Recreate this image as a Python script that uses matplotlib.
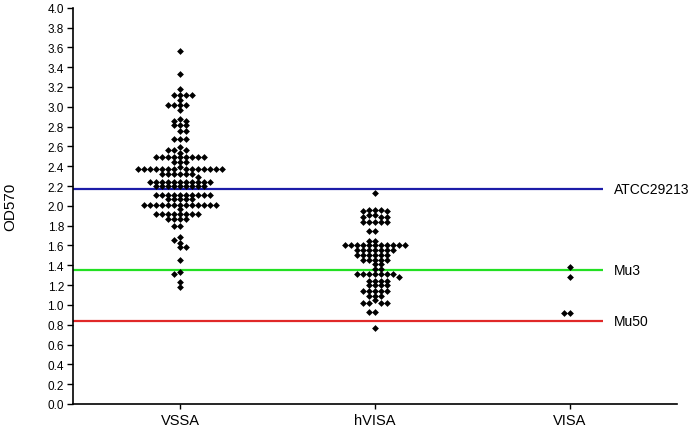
import numpy as np
import matplotlib
matplotlib.use("Agg")
import matplotlib.pyplot as plt

plt.rcParams['font.family'] = ['Liberation Sans', 'DejaVu Sans']

# OD570 values
groups = ['VSSA', 'hVISA', 'VISA']

vssa = [3.56, 3.33, 3.18,
        3.12, 3.12, 3.12, 3.12, 3.07, 3.02, 3.02, 3.02, 3.02, 2.97,
        2.88, 2.86, 2.86, 2.82, 2.82, 2.82, 2.76, 2.76, 2.67, 2.67, 2.67,
        2.59, 2.56, 2.56, 2.56, 2.53,
        2.49, 2.49, 2.49, 2.49, 2.49, 2.49, 2.49, 2.49, 2.49,
        2.44, 2.44, 2.44, 2.39,
        2.37, 2.37, 2.37, 2.37, 2.37, 2.37, 2.37, 2.37, 2.37, 2.37, 2.37, 2.37, 2.37, 2.37,
        2.32, 2.32, 2.32, 2.32, 2.32, 2.32, 2.29,
        2.24, 2.24, 2.24, 2.24, 2.24, 2.24, 2.24, 2.24, 2.24, 2.24, 2.24,
        2.20, 2.20, 2.20, 2.20, 2.20, 2.20, 2.20, 2.20, 2.20,
        2.11, 2.11, 2.11, 2.11, 2.11, 2.11, 2.11, 2.11, 2.11, 2.11,
        2.07, 2.07, 2.07, 2.07, 2.07,
        2.01, 2.01, 2.01, 2.01, 2.01, 2.01, 2.01, 2.01, 2.01, 2.01, 2.01, 2.01, 2.01,
        1.97,
        1.92, 1.92, 1.92, 1.92, 1.92, 1.92, 1.92, 1.92,
        1.87, 1.87, 1.87, 1.87, 1.80, 1.80,
        1.69, 1.66, 1.63, 1.58, 1.58, 1.45, 1.335, 1.31, 1.23, 1.18]

hvisa = [2.13,
         1.96, 1.96, 1.96, 1.95, 1.95, 1.91, 1.91,
         1.89, 1.89, 1.89, 1.84, 1.84, 1.84, 1.84, 1.84,
         1.75, 1.75, 1.65, 1.65,
         1.60, 1.60, 1.60, 1.60, 1.60, 1.60, 1.60, 1.60, 1.60, 1.60, 1.60,
         1.55, 1.55, 1.55, 1.55, 1.55, 1.55, 1.55,
         1.50, 1.50, 1.50, 1.50, 1.50, 1.50,
         1.45, 1.45, 1.45, 1.45, 1.45, 1.41, 1.41, 1.36, 1.36,
         1.31, 1.31, 1.31, 1.31, 1.31, 1.31, 1.31, 1.28,
         1.24, 1.24, 1.24, 1.24, 1.20, 1.20, 1.20, 1.20,
         1.14, 1.14, 1.14, 1.14, 1.14, 1.09, 1.09, 1.09, 1.05,
         1.02, 1.02, 1.02, 1.02, 0.93, 0.93, 0.77]

visa = [1.38, 1.28, 0.92, 0.92]

# reference strains
ref_names = ['ATCC29213', 'Mu3', 'Mu50']
ref_values = [2.17, 1.355, 0.84]
ref_colors = ['#1c1ca8', '#22e022', '#e02828']

yticks = np.arange(0, 4.01, 0.2)


def column_swarm(values, col_w, min_dy):
    # Prism-like layout: points snap to columns, a column is free
    # if no point in it sits closer than min_dy vertically (pixels)
    order = np.argsort(values)[::-1]
    used = {}
    xs = np.zeros(len(values))
    flip = 1
    for i in order:
        y = values[i]
        k = 0
        while True:
            cols = [0] if k == 0 else [flip * k, -flip * k]
            done = False
            for c in cols:
                if all(abs(y - py) >= min_dy for py in used.get(c, [])):
                    used.setdefault(c, []).append(y)
                    xs[i] = c * col_w
                    done = True
                    break
            if done:
                break
            k += 1
        flip = -flip
    return xs


fig = plt.figure(figsize=(6.95, 4.31), dpi=100)
ax = fig.add_axes([73 / 695, 26 / 431, 604 / 695, 396.3 / 431])
ax.set_xlim(-0.55, 2.55)
ax.set_ylim(0, 4.0)

# pixel scale for the swarm layout
bbox = ax.get_window_extent()
px_x = bbox.width / 3.1
px_y = bbox.height / 4.0

for k, vals in enumerate([vssa, hvisa, visa]):
    vals = np.array(vals)
    offs = column_swarm(vals * px_y, 6.0, 3.5)
    ax.scatter(k + offs / px_x, vals, marker='D', s=12, color='black',
               linewidths=0, zorder=3)

for name, v, c in zip(ref_names, ref_values, ref_colors):
    ax.hlines(v, -0.55, 2.17, color=c, linewidth=1.6, zorder=2)
    ax.text(2.225, v, name, va='center', ha='left', fontsize=10)

ax.spines['top'].set_visible(False)
ax.spines['right'].set_visible(False)
ax.spines['left'].set_linewidth(1.2)
ax.spines['bottom'].set_linewidth(1.2)

ax.set_yticks(yticks)
ax.set_yticklabels([f'{t:.1f}' for t in yticks], fontsize=8.5)
ax.set_xticks([0, 1, 2])
ax.set_xticklabels(groups, fontsize=10.5)
ax.tick_params(axis='y', length=4.5, width=1.0, pad=2)
ax.tick_params(axis='x', length=3.5, width=1.0, pad=3)

ax.set_ylabel('OD570', fontsize=11, va='center')
ax.yaxis.set_label_coords(-0.104, 0.5)

fig.savefig('out.png', dpi=100)
